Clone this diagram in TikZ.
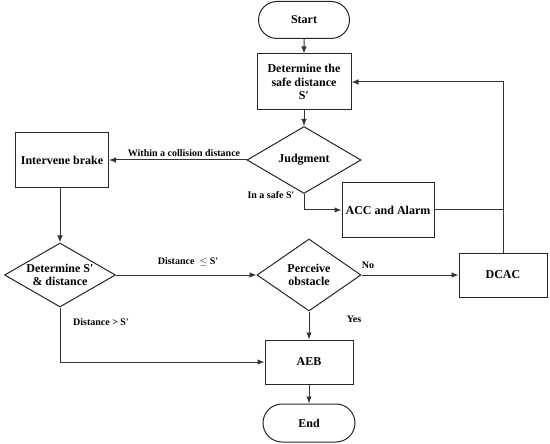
\documentclass[tikz,border=0pt]{standalone}
\usepackage{fontspec}
\setmainfont{Liberation Serif}
\usetikzlibrary{shapes.geometric,shapes.misc,arrows.meta}
\tikzset{
  base/.style={draw=black!85, line width=1pt, font=\fontsize{12}{13.5}\selectfont\bfseries, align=center, inner sep=1pt},
  box/.style={base, rectangle},
  term/.style={base, rounded rectangle},
  dec/.style={base, diamond, inner sep=0pt, label={[font=\fontsize{12}{13.5}\selectfont\bfseries, align=center]center:#1}},
  conn/.style={draw=black!80, line width=1pt},
  arr/.style={conn, -{Latex[length=7pt,width=5.5pt]}},
  lab/.style={font=\fontsize{10}{11}\selectfont\bfseries, inner sep=0pt}
}
\begin{document}
\begin{tikzpicture}[x=1pt,y=-1pt]
\useasboundingbox (0,0) rectangle (550,444);
\node[term, minimum width=93pt, minimum height=37pt] (start) at (304,20) {Start};
\node[box, minimum width=94pt, minimum height=56pt] (det) at (304,82) {Determine the\\safe distance\\S′};
\node[dec={Judgment}, minimum width=114pt, minimum height=67pt] (judg) at (304,160) {};
\node[box, minimum width=92pt, minimum height=55pt] (acc) at (388,210) {ACC and Alarm};
\node[box, minimum width=93pt, minimum height=55pt] (brake) at (62,160) {Intervene brake};
\node[dec={Determine S′\\\& distance}, minimum width=111pt, minimum height=64pt] (dsd) at (60,275) {};
\node[dec={Perceive\\obstacle}, minimum width=104pt, minimum height=72pt] (perc) at (309,275) {};
\node[box, minimum width=88pt, minimum height=44pt] (dcac) at (503,275) {DCAC};
\node[box, minimum width=88pt, minimum height=44pt] (aeb) at (309,362) {AEB};
\node[term, minimum width=94pt, minimum height=38pt] (end) at (309,423) {End};

\coordinate (fb) at (acc.east -| dcac.north);
\draw[arr] (start) -- (det);
\draw[arr] (det) -- (judg);
\draw[arr] (judg.west) -- (brake.east);
\draw[arr] (judg.south) |- (acc.west);
\draw[conn] (acc.east) -- (fb);
\draw[arr] (dcac.north) |- (det.east);
\draw[arr] (brake.south -| dsd.north) -- (dsd.north);
\draw[arr] (dsd.east) -- (perc.west);
\draw[arr] (dsd.south) |- (aeb.west);
\draw[arr] (perc.east) -- (dcac.west);
\draw[arr] (perc.south) -- (aeb.north);
\draw[arr] (aeb) -- (end);

\node[lab] (l1) at (184,153) {Within a collision distance};
\node[lab] (l2) at (271,195) {In a safe S′};
\node[lab] (l3) at (188,262) {Distance \ $\le$ S′};
\node[lab] (l4) at (101,322) {Distance > S′};
\node[lab] (l5) at (368,265) {No};
\node[lab] (l6) at (354,319) {Yes};
\end{tikzpicture}
\end{document}
